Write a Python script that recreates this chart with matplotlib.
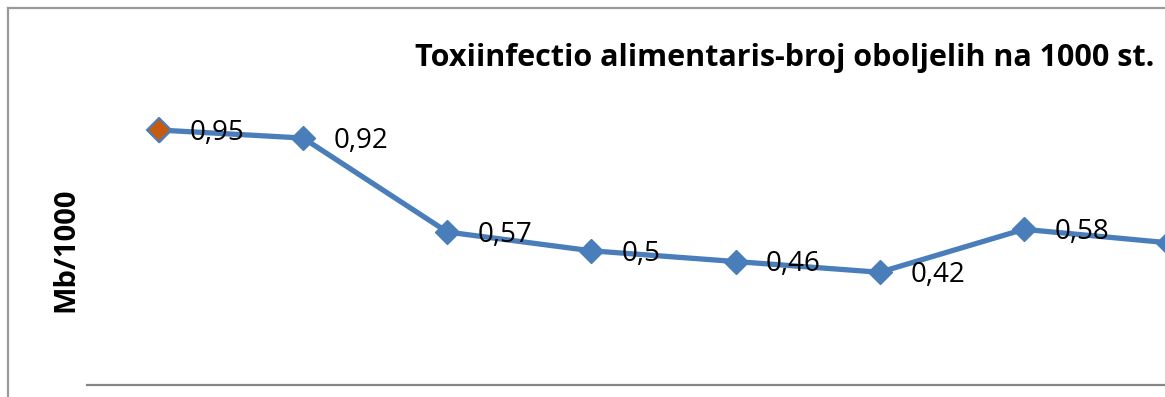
import matplotlib
matplotlib.use('Agg')
import matplotlib.pyplot as plt
from matplotlib.lines import Line2D

# incidence of food poisoning per 1000 inhabitants
values = [0.95, 0.92, 0.57, 0.5, 0.46, 0.42, 0.58, 0.53]
labels = ['0,95', '0,92', '0,57', '0,5', '0,46', '0,42', '0,58']
title = 'Toxiinfectio alimentaris-broj oboljelih na 1000 st.'
ylabel = 'Mb/1000'

blue = '#4A7EBB'
orange = '#C55A11'
W, H = 1165, 397

plt.rcParams['font.family'] = ['Open Sans', 'DejaVu Sans']

fig = plt.figure(figsize=(W / 100, H / 100), dpi=100)

# chart area frame (only left and top edges fall inside the image)
fig.add_artist(Line2D([8 / W, 8 / W], [0, 1 - 8 / H], color='#9A9A9A', lw=1.6,
                      transform=fig.transFigure))
fig.add_artist(Line2D([8 / W, 1], [1 - 8 / H, 1 - 8 / H], color='#9A9A9A', lw=1.6,
                      transform=fig.transFigure))

ax = fig.add_axes([87 / W, 12 / H, 1153 / W, 268.4 / H])
x = list(range(len(values)))
ax.plot(x, values, color=blue, lw=3.8, marker='D', ms=12,
        mfc=blue, mec=blue, zorder=3)
ax.plot(x[0], values[0], marker='D', ms=12, mfc=orange, mec=blue, mew=1.5,
        ls='none', zorder=4)

for i, lab in enumerate(labels):
    ax.annotate(lab, (x[i], values[i]), xytext=(22, -2), textcoords='offset points',
                ha='left', va='center', fontsize=20, color='black', zorder=5)

ax.set_xlim(-0.5, len(values) - 0.5)
ax.set_ylim(0, 1)
for s in ['left', 'right', 'top']:
    ax.spines[s].set_visible(False)
ax.spines['bottom'].set_color('#868686')
ax.spines['bottom'].set_linewidth(1.6)
ax.set_xticks([])
ax.set_yticks([])
ax.patch.set_alpha(0)

fig.text(785 / W, 1 - 58 / H, title, ha='center', va='center',
         fontsize=22, fontweight='bold')
fig.text(66 / W, 1 - 250 / H, ylabel, ha='center', va='center', rotation=90,
         fontsize=21, fontweight='bold')

fig.savefig('out.png', dpi=100)
